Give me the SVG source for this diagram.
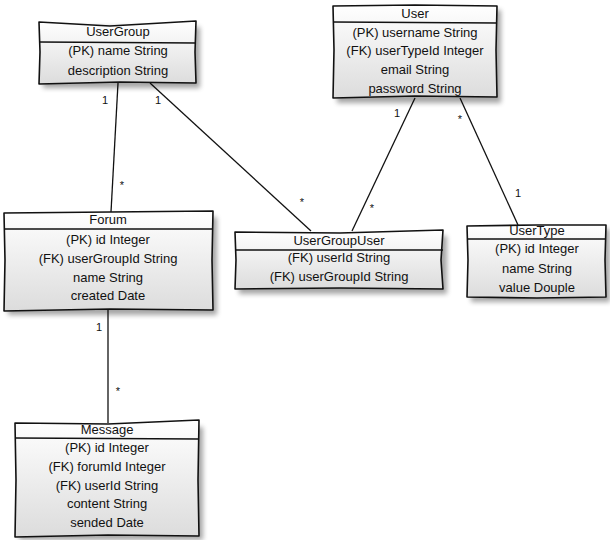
<svg xmlns="http://www.w3.org/2000/svg" width="610" height="540" viewBox="0 0 610 540">
<defs>
<linearGradient id="g" x1="0" y1="0" x2="0" y2="1">
<stop offset="0" stop-color="#ffffff"/>
<stop offset="1" stop-color="#dcdcdc"/>
</linearGradient>
<filter id="sh" x="-10%" y="-10%" width="130%" height="130%">
<feGaussianBlur stdDeviation="2.5"/>
</filter>
</defs>
<style>
.shadow{fill:#000;opacity:0.35;filter:url(#sh)}
.box{fill:url(#g);stroke:#111;stroke-width:1.6;stroke-linejoin:round}
.div{stroke:#111;stroke-width:1.6;fill:none}
.t{font-family:"Liberation Sans",Arial,sans-serif;font-size:13px;fill:#111;text-anchor:middle}
.c{stroke:#111;stroke-width:1.3;fill:none}
.lbl{font-family:"Liberation Sans",Arial,sans-serif;font-size:11px;fill:#111;text-anchor:middle}
</style>
<g id="connectors">
<path class="c" d="M118 83 L111 212"/>
<path class="c" d="M150 83 L311 231"/>
<path class="c" d="M415 98 L352 231"/>
<path class="c" d="M460 98 L518 225"/>
<path class="c" d="M108 310 L108 423"/>
<text class="lbl" x="105" y="104">1</text>
<text class="lbl" x="122" y="189">*</text>
<text class="lbl" x="158" y="104">1</text>
<text class="lbl" x="302" y="206">*</text>
<text class="lbl" x="397" y="117">1</text>
<text class="lbl" x="372" y="212">*</text>
<text class="lbl" x="460" y="123">*</text>
<text class="lbl" x="518" y="197">1</text>
<text class="lbl" x="99" y="331">1</text>
<text class="lbl" x="118" y="395">*</text>
</g>
<g id="UserGroup">
<rect class="shadow" x="43" y="27" width="157" height="61"/>
<path class="box" d="M39 22 L110 26 L196 21 L195 52 L196 83 L120 82 L39 84 L40 52 Z"/>
<path class="div" d="M39 42 L196 43"/>
<text class="t" x="118" y="36">UserGroup</text>
<text class="t" x="118" y="55">(PK) name String</text>
<text class="t" x="118" y="75">description String</text>
</g>
<g id="User">
<rect class="shadow" x="337" y="10" width="164" height="93"/>
<path class="box" d="M333 6 L415 5 L497 6 L496 50 L497 97 L415 96 L333 98 L334 50 Z"/>
<path class="div" d="M333 22 L497 23"/>
<text class="t" x="415" y="18">User</text>
<text class="t" x="415" y="37">(PK) username String</text>
<text class="t" x="415" y="55">(FK) userTypeId Integer</text>
<text class="t" x="415" y="74">email String</text>
<text class="t" x="415" y="93">password String</text>
</g>
<g id="Forum">
<rect class="shadow" x="8" y="217" width="209" height="98"/>
<path class="box" d="M4 213 L110 212 L213 211 L212 260 L213 310 L110 309 L4 311 L5 260 Z"/>
<path class="div" d="M4 229 L213 229"/>
<text class="t" x="108" y="224">Forum</text>
<text class="t" x="108" y="244">(PK) id Integer</text>
<text class="t" x="108" y="263">(FK) userGroupId String</text>
<text class="t" x="108" y="282">name String</text>
<text class="t" x="108" y="300">created Date</text>
</g>
<g id="UserGroupUser">
<rect class="shadow" x="239" y="236" width="208" height="58"/>
<path class="box" d="M235 232 L340 233 L443 230 L441 260 L443 289 L340 288 L235 289 L236 260 Z"/>
<path class="div" d="M235 250 L443 250"/>
<text class="t" x="339" y="245">UserGroupUser</text>
<text class="t" x="339" y="262">(FK) userId String</text>
<text class="t" x="339" y="281">(FK) userGroupId String</text>
</g>
<g id="UserType">
<rect class="shadow" x="471" y="229" width="139" height="73"/>
<path class="box" d="M467 226 L537 225 L606 225 L605 260 L606 297 L537 298 L467 297 L468 260 Z"/>
<path class="div" d="M467 239 L606 239"/>
<text class="t" x="537" y="235">UserType</text>
<text class="t" x="537" y="253">(PK) id Integer</text>
<text class="t" x="537" y="273">name String</text>
<text class="t" x="537" y="292">value Douple</text>
</g>
<g id="Message">
<rect class="shadow" x="19" y="427" width="184" height="113"/>
<path class="box" d="M15 423 L108 424 L199 420 L198 480 L199 536 L108 535 L15 537 L16 480 Z"/>
<path class="div" d="M15 438 L199 439"/>
<text class="t" x="107" y="434">Message</text>
<text class="t" x="107" y="452">(PK) id Integer</text>
<text class="t" x="107" y="471">(FK) forumId Integer</text>
<text class="t" x="107" y="490">(FK) userId String</text>
<text class="t" x="107" y="508">content String</text>
<text class="t" x="107" y="527">sended Date</text>
</g>
</svg>
